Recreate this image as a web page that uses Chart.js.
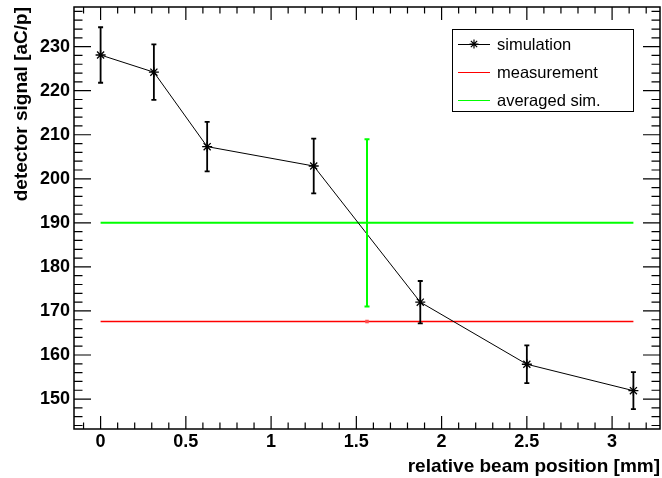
<!DOCTYPE html>
<html>
<head>
<meta charset="utf-8">
<script src="https://cdn.jsdelivr.net/npm/chart.js@4.4.0/dist/chart.umd.min.js"></script>
<style>
  html, body { margin: 0; padding: 0; background: #fff; }
  #chart { display: block; }
</style>
</head>
<body>
<canvas id="chart" width="662" height="478"></canvas>
<script>
// simulated points
const positions = [0, 0.3125, 0.625, 1.25, 1.875, 2.5, 3.125];
const simSignal = [228.1, 224.2, 207.3, 202.9, 172.0, 157.9, 151.9];
const simError  = [6.3, 6.3, 5.6, 6.2, 4.8, 4.3, 4.2];

// measurement and averaged simulation (centre +- half width)
const measX = 1.5625, measXErr = 1.5625, measY = 167.6;
const avgX = 1.5625, avgXErr = 1.5625, avgY = 190, avgYErr = 19;

const xTickLabels = ['0', '0.5', '1', '1.5', '2', '2.5', '3'];
const yTickLabels = ['150', '160', '170', '180', '190', '200', '210', '220', '230'];

const FONT = "'Liberation Sans', Helvetica, Arial, sans-serif";

const frameTicks = {
  id: 'frameTicks',
  afterDatasetsDraw(chart) {
    const { ctx, chartArea: a, scales: { x, y } } = chart;
    ctx.save();
    ctx.strokeStyle = '#000';

    // error bars of the simulation
    ctx.lineWidth = 1.8;
    positions.forEach((p, i) => {
      const px = x.getPixelForValue(p);
      const top = y.getPixelForValue(simSignal[i] + simError[i]);
      const bot = y.getPixelForValue(simSignal[i] - simError[i]);
      ctx.beginPath();
      ctx.moveTo(px, top); ctx.lineTo(px, bot);
      ctx.moveTo(px - 2.5, top); ctx.lineTo(px + 2.5, top);
      ctx.moveTo(px - 2.5, bot); ctx.lineTo(px + 2.5, bot);
      ctx.stroke();
    });

    // vertical error of averaged sim.
    ctx.strokeStyle = '#00ff00';
    ctx.lineWidth = 2;
    const gx = x.getPixelForValue(avgX);
    const gt = y.getPixelForValue(avgY + avgYErr);
    const gb = y.getPixelForValue(avgY - avgYErr);
    ctx.beginPath();
    ctx.moveTo(gx, gt); ctx.lineTo(gx, gb);
    ctx.moveTo(gx - 2.5, gt); ctx.lineTo(gx + 2.5, gt);
    ctx.moveTo(gx - 2.5, gb); ctx.lineTo(gx + 2.5, gb);
    ctx.stroke();

    // frame
    ctx.strokeStyle = '#000';
    ctx.lineWidth = 1.5;
    ctx.strokeRect(a.left, a.top, a.right - a.left, a.bottom - a.top);

    // inward ticks, all four sides
    ctx.lineWidth = 1.2;
    ctx.beginPath();
    for (let v = -0.1; v < x.max; v += 0.1) {
      const val = Math.round(v * 10) / 10;
      if (val < x.min) continue;
      const px = x.getPixelForValue(val);
      const major = Math.abs(val * 2 - Math.round(val * 2)) < 1e-6;
      const len = major ? 13 : 6.5;
      ctx.moveTo(px, a.bottom); ctx.lineTo(px, a.bottom - len);
      ctx.moveTo(px, a.top); ctx.lineTo(px, a.top + len);
    }
    for (let v = 144; v < y.max; v += 2) {
      const py = y.getPixelForValue(v);
      const len = v % 10 === 0 ? 17 : 8.5;
      ctx.moveTo(a.left, py); ctx.lineTo(a.left + len, py);
      ctx.moveTo(a.right, py); ctx.lineTo(a.right - len, py);
    }
    ctx.stroke();
    ctx.restore();
  },
  afterDraw(chart) {
    const { ctx } = chart;
    const ds = chart.data.datasets;
    ctx.save();
    ctx.fillStyle = '#fff';
    ctx.fillRect(452, 29, 181, 82);
    ctx.strokeStyle = '#000';
    ctx.lineWidth = 1;
    ctx.strokeRect(452.5, 29.5, 181, 82);
    ctx.font = '16.5px ' + FONT;
    ctx.textBaseline = 'middle';
    ctx.textAlign = 'left';
    const rows = [44, 72, 100];
    ds.forEach((d, i) => {
      const ry = rows[i];
      ctx.strokeStyle = d.borderColor;
      ctx.lineWidth = 1;
      ctx.beginPath();
      ctx.moveTo(458, ry + 0.5); ctx.lineTo(490, ry + 0.5);
      ctx.stroke();
      if (i === 0) {
        ctx.lineWidth = 1.2;
        ctx.beginPath();
        const cx = 474, r = 4.5;
        ctx.moveTo(cx - r, ry); ctx.lineTo(cx + r, ry);
        ctx.moveTo(cx, ry - r); ctx.lineTo(cx, ry + r);
        ctx.moveTo(cx - r * 0.7, ry - r * 0.7); ctx.lineTo(cx + r * 0.7, ry + r * 0.7);
        ctx.moveTo(cx - r * 0.7, ry + r * 0.7); ctx.lineTo(cx + r * 0.7, ry - r * 0.7);
        ctx.stroke();
      }
      ctx.fillStyle = '#000';
      ctx.fillText(d.label, 497, ry + 1);
    });
    ctx.restore();
  }
};

new Chart(document.getElementById('chart'), {
  type: 'scatter',
  data: {
    datasets: [
      {
        label: 'simulation',
        data: positions.map((p, i) => ({ x: p, y: simSignal[i] })),
        showLine: true,
        borderColor: '#000',
        backgroundColor: '#000',
        borderWidth: 1,
        pointStyle: 'star',
        pointRadius: 5,
        pointBorderWidth: 1.3
      },
      {
        label: 'measurement',
        data: [
          { x: measX - measXErr, y: measY },
          { x: measX, y: measY },
          { x: measX + measXErr, y: measY }
        ],
        showLine: true,
        borderColor: '#ff0000',
        backgroundColor: '#ff5050',
        borderWidth: 1.5,
        pointStyle: 'rect',
        pointRadius: [0, 2.5, 0],
        pointBorderWidth: 0
      },
      {
        label: 'averaged sim.',
        data: [
          { x: avgX - avgXErr, y: avgY },
          { x: avgX + avgXErr, y: avgY }
        ],
        showLine: true,
        borderColor: '#00ff00',
        borderWidth: 2,
        pointRadius: 0
      }
    ]
  },
  options: {
    responsive: false,
    animation: false,
    devicePixelRatio: 1,
    layout: { autoPadding: false, padding: { top: 7, right: 2, left: 0, bottom: 0 } },
    plugins: { legend: { display: false }, tooltip: { enabled: false } },
    scales: {
      x: {
        type: 'linear',
        min: -0.156,
        max: 3.281,
        afterBuildTicks: s => { s.ticks = xTickLabels.map(t => ({ value: parseFloat(t) })); },
        afterFit: s => { s.height = 49; s.paddingLeft = 0; s.paddingRight = 0; },
        ticks: {
          callback: v => String(v),
          color: '#000',
          padding: 2,
          maxRotation: 0,
          autoSkip: false,
          font: { family: FONT, size: 18, weight: 'bold' }
        },
        grid: { display: false, drawTicks: false },
        border: { display: false },
        title: {
          display: true,
          text: 'relative beam position [mm]',
          align: 'end',
          color: '#000',
          padding: { top: 0, bottom: 0 },
          font: { family: FONT, size: 19, weight: 'bold' }
        }
      },
      y: {
        type: 'linear',
        min: 143.2,
        max: 239.0,
        afterBuildTicks: s => { s.ticks = yTickLabels.map(t => ({ value: parseFloat(t) })); },
        afterFit: s => { s.width = 74; s.paddingTop = 0; s.paddingBottom = 0; },
        ticks: {
          callback: v => String(v),
          color: '#000',
          padding: 4,
          autoSkip: false,
          font: { family: FONT, size: 18, weight: 'bold' }
        },
        grid: { display: false, drawTicks: false },
        border: { display: false },
        title: {
          display: true,
          text: 'detector signal [aC/p]',
          align: 'end',
          color: '#000',
          padding: { top: 10, bottom: 0 },
          font: { family: FONT, size: 19, weight: 'bold' }
        }
      }
    }
  },
  plugins: [frameTicks]
});
</script>
</body>
</html>
